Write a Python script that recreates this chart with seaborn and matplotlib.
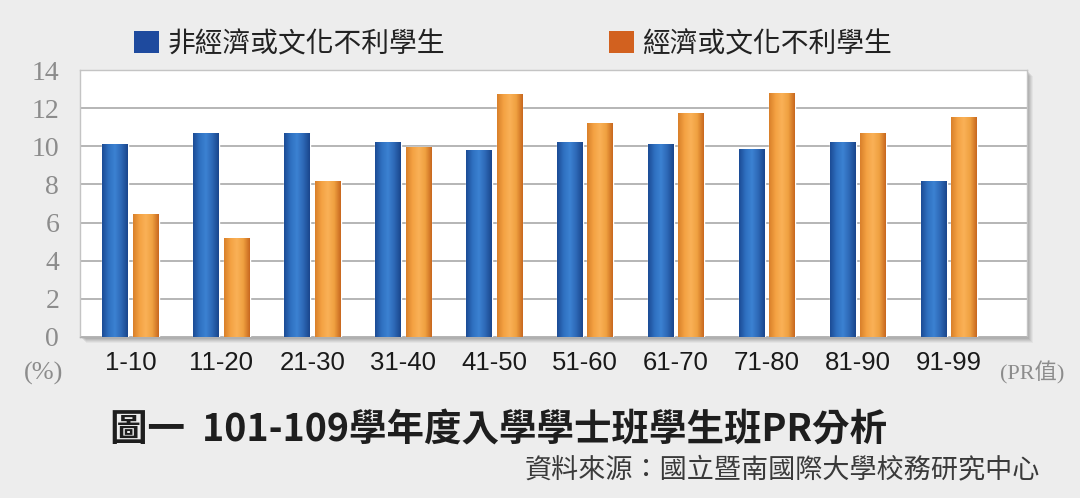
import numpy as np
import pandas as pd
import matplotlib
matplotlib.use("Agg")
import matplotlib.pyplot as plt
from matplotlib.colors import LinearSegmentedColormap
from matplotlib.patches import Rectangle, Patch
import seaborn as sns

# PR ranges and percentage of students in each range
pr_ranges = ["1-10", "11-20", "21-30", "31-40", "41-50",
             "51-60", "61-70", "71-80", "81-90", "91-99"]
non_disadvantaged = [10.1, 10.7, 10.7, 10.2, 9.8, 10.2, 10.1, 9.85, 10.25, 8.2]
disadvantaged = [6.45, 5.2, 8.2, 9.95, 12.75, 11.2, 11.75, 12.8, 10.7, 11.55]
series_names = ["非經濟或文化不利學生", "經濟或文化不利學生"]
y_ticks = [0, 2, 4, 6, 8, 10, 12, 14]

df = pd.DataFrame({
    "PR": pr_ranges * 2,
    "pct": non_disadvantaged + disadvantaged,
    "group": [series_names[0]] * len(pr_ranges) + [series_names[1]] * len(pr_ranges),
})

sns.set_theme(style="white")
CJK = ["Noto Sans CJK TC", "DejaVu Sans"]
plt.rcParams["font.family"] = CJK

BG = "#ededed"
fig = plt.figure(figsize=(10.8, 4.98), dpi=100, facecolor=BG)
ax_pos = [80 / 1080, 1 - 337 / 498, (1027 - 80) / 1080, (337 - 70) / 498]

# soft drop shadow behind the plotting panel
for i, a in enumerate([0.08, 0.10, 0.12, 0.14, 0.16]):
    off = (6 - i) / 1080
    offy = (6 - i) / 498
    fig.patches.append(Rectangle((ax_pos[0] + off, ax_pos[1] - offy), ax_pos[2], ax_pos[3],
                                 transform=fig.transFigure, facecolor="#6e6e6e",
                                 edgecolor="none", alpha=a, zorder=-1))

ax = fig.add_axes(ax_pos)
ax.set_zorder(2)
ax.set_facecolor("white")

palette = {series_names[0]: "#2a66b4", series_names[1]: "#f09a3a"}
sns.barplot(data=df, x="PR", y="pct", hue="group", palette=palette,
            width=0.67, gap=0.15, dodge=True, legend=False, ax=ax,
            saturation=1, zorder=3)

# cylindrical shading on each bar
blue_cmap = LinearSegmentedColormap.from_list(
    "b", ["#1b4b95", "#2f70c0", "#3c82d2", "#2d68b6", "#1a468c"])
orange_cmap = LinearSegmentedColormap.from_list(
    "o", ["#d9802a", "#f4a243", "#fab157", "#efa040", "#c8681f"])
grad = np.linspace(0, 1, 64).reshape(1, -1)
n = len(pr_ranges)
for k, p in enumerate(ax.patches[:2 * n]):
    x0, w, h = p.get_x(), p.get_width(), p.get_height()
    cmap = blue_cmap if k < n else orange_cmap
    im = ax.imshow(grad, cmap=cmap, aspect="auto", extent=[x0, x0 + w, 0, h],
                   zorder=3.5, interpolation="bilinear")
    im.set_clip_path(p)

ax.set_xlim(-0.556, 9.86)
ax.set_ylim(0, 14)
ax.set_yticks(y_ticks)
ax.yaxis.grid(True, color="#a9a9a9", linewidth=1.2, zorder=1)
ax.set_axisbelow(True)
for s in ["top", "left", "right", "bottom"]:
    ax.spines[s].set_color("#c4c4c4")
    ax.spines[s].set_linewidth(1.0)
ax.spines["bottom"].set_color("#b0b0b0")

ax.set_xlabel("")
ax.set_ylabel("")
ax.tick_params(axis="both", length=0)
ax.tick_params(axis="y", pad=15)
ax.tick_params(axis="x", pad=10)
for t in ax.get_yticklabels():
    t.set_fontfamily(["Liberation Serif", "DejaVu Serif"])
    t.set_fontsize(20)
    t.set_color("#8c8c8c")
for t in ax.get_xticklabels():
    t.set_fontfamily(["Liberation Sans", "DejaVu Sans"])
    t.set_fontsize(18.5)
    t.set_color("#1a1a1a")

# unit labels
fig.text(44 / 1080, 1 - 373 / 498, "(%)", ha="center", va="center",
         fontsize=19, color="#8c8c8c", family=["Liberation Serif", "DejaVu Serif"])
fig.text(1000 / 1080, 1 - 373 / 498, "(PR值)", ha="left", va="center",
         fontsize=16, color="#8c8c8c",
         family=["Liberation Serif", "Noto Sans CJK TC"])

# legend
handles = [Patch(facecolor="#1e4a9e", edgecolor="none"),
           Patch(facecolor="#d2611f", edgecolor="none")]
fig.legend(handles, series_names, loc="center left",
           bbox_to_anchor=(109 / 1080, 1 - 44 / 498), ncol=2, frameon=False,
           fontsize=20, handlelength=0.9, handleheight=0.85,
           handletextpad=0.3, columnspacing=5.9, labelcolor="#222222")

# caption and source
fig.text(110 / 1080, 1 - 430 / 498, "圖一  101-109學年度入學學士班學生班PR分析",
         ha="left", va="center", fontsize=27, fontweight="bold", color="#1e1e1e")
fig.text(1040 / 1080, 1 - 470 / 498, "資料來源：國立暨南國際大學校務研究中心",
         ha="right", va="center", fontsize=19.5, color="#3a3a3a")

fig.savefig("out.png", dpi=100, facecolor=BG)
